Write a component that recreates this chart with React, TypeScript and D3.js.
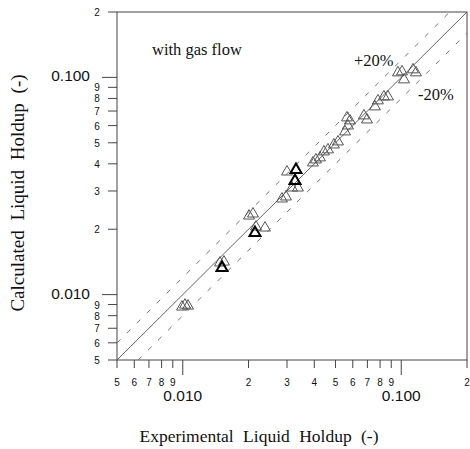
import React from "react";
import * as d3 from "d3";

const expHoldup = [
  0.00992, 0.01024, 0.01057, 0.0148, 0.01544, 0.0201, 0.02096, 0.02163, 0.02379,
  0.02845, 0.02968, 0.030, 0.03162, 0.03368, 0.03944, 0.0407, 0.04247, 0.0443,
  0.0462, 0.0492, 0.05134, 0.0553, 0.05704, 0.05826, 0.05645, 0.0675, 0.0697,
  0.0758, 0.07825, 0.0833, 0.08695, 0.0966, 0.1008, 0.103, 0.1132, 0.1168,
];
const calcHoldup = [
  0.00878, 0.00896, 0.00887, 0.0140, 0.01414, 0.02304, 0.02354, 0.02051, 0.02029,
  0.0276, 0.0282, 0.03675, 0.0310, 0.0310, 0.04044, 0.04176, 0.04266, 0.04545,
  0.04645, 0.04894, 0.05053, 0.0562, 0.05986, 0.06315, 0.0652, 0.0666, 0.0638,
  0.07325, 0.0781, 0.08145, 0.08145, 0.1051, 0.1062, 0.0976, 0.1085, 0.1051,
];
const expHoldupBold = [0.01512, 0.0214, 0.03298, 0.03264];
const calcHoldupBold = [0.01327, 0.01924, 0.03755, 0.0334];

const axisDomain = [0.005, 0.2];
const minorTicks = [0.005, 0.006, 0.007, 0.008, 0.009, 0.02, 0.03, 0.04, 0.05, 0.06, 0.07, 0.08, 0.09, 0.2];
const minorLabels = ["5", "6", "7", "8", "9", "2", "3", "4", "5", "6", "7", "8", "9", "2"];
const majorTicks = [0.01, 0.1];
const majorLabels = ["0.010", "0.100"];
const bandFactors = [1.2, 0.8];

const W = 470;
const H = 449;
const L = 117, R = 467, T = 12, B = 360;

export default function App() {
  const x = d3.scaleLog().domain(axisDomain).range([L, R]);
  const y = d3.scaleLog().domain(axisDomain).range([B, T]);
  const tri = d3.symbol(d3.symbolTriangle, 52)()!;

  const line = d3
    .line<number>()
    .x((d) => x(d))
    .y((d) => y(d));

  const bandLine = (f: number) => {
    const x0 = Math.max(axisDomain[0], axisDomain[0] / f);
    const x1 = Math.min(axisDomain[1], axisDomain[1] / f);
    return d3
      .line<number>()
      .x((d) => x(d))
      .y((d) => y(d * f))([x0, x1])!;
  };

  const serif = "'Liberation Serif', 'DejaVu Serif', serif";
  const sans = "'Liberation Sans', Arial, sans-serif";

  return (
    <svg
      width={W}
      height={H}
      style={{ position: "absolute", left: 0, top: 0, background: "#fff" }}
    >
      {/* frame */}
      <rect x={L} y={T} width={R - L} height={B - T} fill="none" stroke="#444" strokeWidth={1} />

      {/* parity and +-20% lines */}
      <path d={line(axisDomain)!} stroke="#555" strokeWidth={0.9} fill="none" />
      {bandFactors.map((f, i) => (
        <path
          key={i}
          d={bandLine(f)}
          stroke="#666"
          strokeWidth={0.9}
          strokeDasharray="5,9"
          fill="none"
        />
      ))}

      {/* x axis ticks */}
      {minorTicks.map((t, i) => (
        <g key={"xm" + i}>
          <line x1={x(t)} x2={x(t)} y1={B} y2={B + 8} stroke="#444" />
          <text
            x={x(t)}
            y={B + 26}
            textAnchor="middle"
            fontFamily={sans}
            fontSize={10}
            fill="#111"
          >
            {minorLabels[i]}
          </text>
        </g>
      ))}
      {majorTicks.map((t, i) => (
        <g key={"xM" + i}>
          <line x1={x(t)} x2={x(t)} y1={B} y2={B + 15} stroke="#444" />
          <text
            x={x(t)}
            y={B + 41}
            textAnchor="middle"
            fontFamily={sans}
            fontSize={15.5}
            fill="#111"
          >
            {majorLabels[i]}
          </text>
        </g>
      ))}

      {/* y axis ticks */}
      {minorTicks.map((t, i) => (
        <g key={"ym" + i}>
          <line x1={L - 9} x2={L} y1={y(t)} y2={y(t)} stroke="#444" />
          <text
            x={L - 20}
            y={y(t) + 4}
            textAnchor="middle"
            fontFamily={sans}
            fontSize={10}
            fill="#111"
          >
            {minorLabels[i]}
          </text>
        </g>
      ))}
      {majorTicks.map((t, i) => (
        <g key={"yM" + i}>
          <line x1={L - 15} x2={L} y1={y(t)} y2={y(t)} stroke="#444" />
          <text
            x={L - 27}
            y={y(t) + 4}
            textAnchor="end"
            fontFamily={sans}
            fontSize={15.5}
            fill="#111"
          >
            {majorLabels[i]}
          </text>
        </g>
      ))}

      {/* data */}
      {expHoldup.map((v, i) => (
        <path
          key={"p" + i}
          d={tri}
          transform={`translate(${x(v)},${y(calcHoldup[i])})`}
          fill="none"
          stroke="#555"
          strokeWidth={1}
        />
      ))}
      {expHoldupBold.map((v, i) => (
        <path
          key={"b" + i}
          d={tri}
          transform={`translate(${x(v)},${y(calcHoldupBold[i])})`}
          fill="none"
          stroke="#000"
          strokeWidth={2}
        />
      ))}

      {/* annotations */}
      <text x={152} y={55} fontFamily={serif} fontSize={16.5} fill="#111">
        with gas flow
      </text>
      <text x={354} y={66} fontFamily={serif} fontSize={16.5} fill="#111">
        +20%
      </text>
      <text x={418} y={100} fontFamily={serif} fontSize={16.5} fill="#111">
        -20%
      </text>

      {/* axis titles */}
      <text
        x={259}
        y={442}
        textAnchor="middle"
        fontFamily={serif}
        fontSize={17.5}
        wordSpacing={5}
        fill="#111"
      >
        Experimental Liquid Holdup (-)
      </text>
      <text
        transform={`translate(24,193) rotate(-90)`}
        textAnchor="middle"
        fontFamily={serif}
        fontSize={19}
        wordSpacing={5}
        fill="#111"
      >
        Calculated Liquid Holdup (-)
      </text>
    </svg>
  );
}
